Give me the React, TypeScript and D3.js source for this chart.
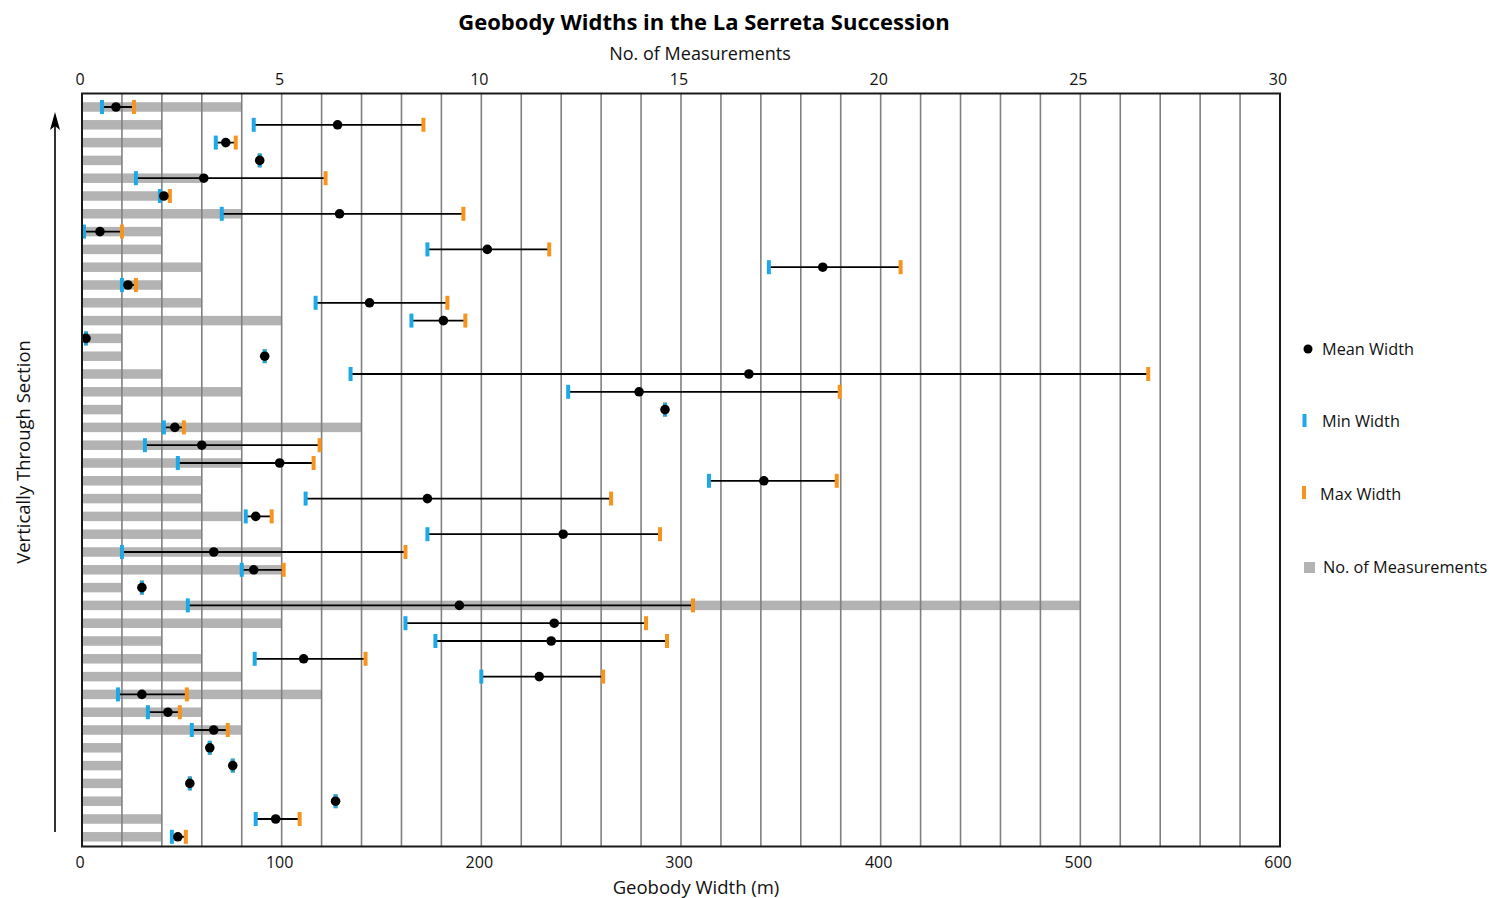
import React from "react";
import * as d3 from "d3";

// Geobodies listed from the top of the section down to the base
const geobodyIds = d3.range(42, 0, -1).map((n) => `G${n}`);

// Number of width measurements per geobody
const measurementCounts = [
  4, 2, 2, 1, 3, 2, 4, 2, 2, 3, 2, 3, 5, 1, 1, 2, 4, 1, 7, 4, 4,
  3, 3, 4, 3, 5, 5, 1, 25, 5, 2, 3, 4, 6, 3, 4, 1, 1, 1, 1, 2, 2,
];

// Minimum, mean and maximum widths (m)
const minWidths = [
  10, 86, 67, 89, 27, 39, 70, 1, 173, 344, 20, 117, 165, 2, 91.5, 134.5, 243.5, 292, 41, 31.5, 48,
  314, 112, 82, 173, 20, 80, 30, 53, 162, 177, 86.5, 200, 18, 33, 55, 64, 75.5, 54, 127, 87, 45,
];
const meanWidths = [
  17, 128, 72, 89, 61, 41, 129, 9, 203, 371, 23, 144, 181, 2, 91.5, 334, 279, 292, 46.5, 60, 99,
  341.5, 173, 87, 241, 66, 86, 30, 189, 236.5, 235, 111, 229, 30, 43, 66, 64, 75.5, 54, 127, 97, 48,
];
const maxWidths = [
  26, 171, 77, 89, 122, 44, 191, 20, 234, 410, 27, 183, 192, 2, 91.5, 534, 379.5, 292, 51, 119, 116,
  378, 265, 95, 289.5, 162, 101, 30, 306, 282.5, 293, 142, 261, 52.5, 49, 73, 64, 75.5, 54, 127, 109, 52,
];

const widthTicks = [0, 100, 200, 300, 400, 500, 600];
const countTicks = [0, 5, 10, 15, 20, 25, 30];

const W = 1489;
const H = 898;
const FONT = "'Open Sans', 'Noto Sans', sans-serif";
const BLUE = "#1ca9e6";
const ORANGE = "#f7941d";
const GREY = "#b3b3b3";
const GRID = "#808080";

export default function App() {
  const plot = { left: 82, right: 1280, top: 93.5, bottom: 846.5 };

  const xWidth = d3.scaleLinear().domain([0, 600]).range([plot.left, plot.right]);
  const xCount = d3.scaleLinear().domain([0, 30]).range([plot.left, plot.right]);
  const y = d3.scaleBand<string>().domain(geobodyIds).range([98.1, 845.7]);
  const yc = (i: number) => (y(geobodyIds[i]) as number) + y.bandwidth() / 2;

  const gridValues = d3.range(20, 600, 20);
  const barH = 9.5;
  const tickW = 4;
  const tickH = 14;

  const rows = geobodyIds.map((id, i) => ({
    id,
    i,
    n: measurementCounts[i],
    min: minWidths[i],
    mean: meanWidths[i],
    max: maxWidths[i],
  }));

  return (
    <svg
      width={W}
      height={H}
      viewBox={`0 0 ${W} ${H}`}
      style={{ position: "absolute", left: 0, top: 0, background: "#fff" }}
      fontFamily={FONT}
    >
      {/* title */}
      <text x={704} y={30} textAnchor="middle" fontSize={22} fontWeight={700} fill="#000">
        Geobody Widths in the La Serreta Succession
      </text>

      {/* top axis: measurement counts */}
      <text x={700} y={60} textAnchor="middle" fontSize={18} fill="#111">
        No. of Measurements
      </text>
      {countTicks.map((t) => (
        <text key={`ct${t}`} x={xCount(t) - 2} y={85} textAnchor="middle" fontSize={16} fill="#111">
          {t}
        </text>
      ))}

      {/* measurement-count bars */}
      {rows.map((r) => (
        <rect
          key={`bar${r.id}`}
          x={xCount(0) + 1}
          y={yc(r.i) - barH / 2}
          width={xCount(r.n) - xCount(0) - 1}
          height={barH}
          fill={GREY}
        />
      ))}

      {/* vertical grid */}
      {gridValues.map((v) => (
        <line
          key={`g${v}`}
          x1={xWidth(v)}
          x2={xWidth(v)}
          y1={plot.top}
          y2={plot.bottom}
          stroke={GRID}
          strokeWidth={1.6}
        />
      ))}

      {/* width ranges */}
      {rows.map((r) => (
        <g key={`w${r.id}`}>
          {r.max > r.min && (
            <line
              x1={xWidth(r.min)}
              x2={xWidth(r.max)}
              y1={yc(r.i)}
              y2={yc(r.i)}
              stroke="#000"
              strokeWidth={1.8}
            />
          )}
          <rect
            x={xWidth(r.max) - tickW / 2}
            y={yc(r.i) - tickH / 2}
            width={tickW}
            height={tickH}
            fill={ORANGE}
          />
          <rect
            x={xWidth(r.min) - tickW / 2}
            y={yc(r.i) - tickH / 2}
            width={tickW}
            height={tickH}
            fill={BLUE}
          />
          <circle cx={xWidth(r.mean)} cy={yc(r.i)} r={4.8} fill="#000" />
        </g>
      ))}

      {/* frame */}
      <rect
        x={plot.left}
        y={plot.top}
        width={plot.right - plot.left}
        height={plot.bottom - plot.top}
        fill="none"
        stroke="#1a1a1a"
        strokeWidth={2}
      />

      {/* bottom axis: width */}
      {widthTicks.map((t) => (
        <text key={`wt${t}`} x={xWidth(t) - 2} y={868} textAnchor="middle" fontSize={16} fill="#111">
          {t}
        </text>
      ))}
      <text x={696} y={894} textAnchor="middle" fontSize={18.5} fill="#111">
        Geobody Width (m)
      </text>

      {/* stratigraphic direction */}
      <text
        transform={`translate(30, 452) rotate(-90)`}
        textAnchor="middle"
        fontSize={18.5}
        fill="#111"
      >
        Vertically Through Section
      </text>
      <line x1={55} x2={55} y1={832} y2={124} stroke="#000" strokeWidth={1.6} />
      <path d="M55,112 L60,130 L55,126 L50,130 Z" fill="#000" />

      {/* legend */}
      <g fontSize={16.3} fill="#111">
        <circle cx={1308} cy={349} r={4.5} fill="#000" />
        <text x={1322} y={355}>Mean Width</text>
        <rect x={1302.5} y={414} width={4} height={13} fill={BLUE} />
        <text x={1322} y={427}>Min Width</text>
        <rect x={1302} y={486} width={4} height={13} fill={ORANGE} />
        <text x={1320} y={500}>Max Width</text>
        <rect x={1304} y={562} width={11} height={11} fill={GREY} />
        <text x={1323} y={573}>No. of Measurements</text>
      </g>
    </svg>
  );
}
